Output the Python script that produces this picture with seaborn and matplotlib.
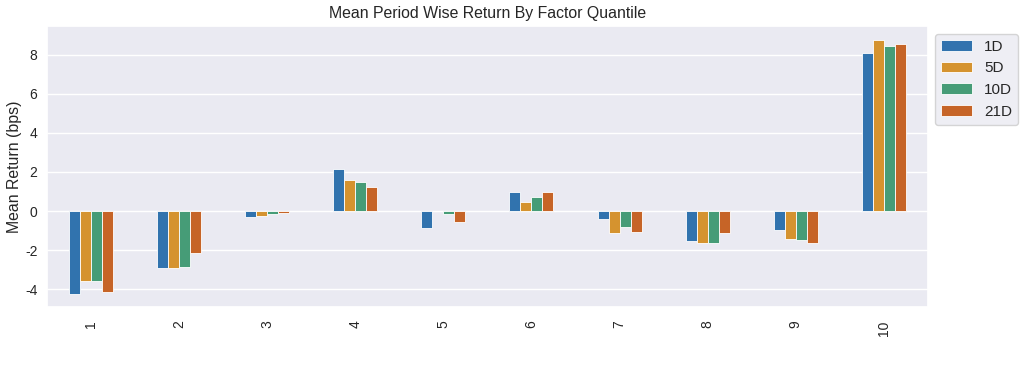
import matplotlib
matplotlib.use("Agg")
import matplotlib.pyplot as plt
import seaborn as sns
import pandas as pd

quantiles = [1, 2, 3, 4, 5, 6, 7, 8, 9, 10]
periods = ["1D", "5D", "10D", "21D"]
ret_1d = [-4.26, -2.90, -0.29, 2.14, -0.89, 0.96, -0.43, -1.52, -0.99, 8.12]
ret_5d = [-3.57, -2.94, -0.26, 1.57, -0.02, 0.48, -1.14, -1.62, -1.44, 8.79]
ret_10d = [-3.60, -2.85, -0.15, 1.50, -0.14, 0.70, -0.80, -1.66, -1.47, 8.45]
ret_21d = [-4.14, -2.14, -0.08, 1.21, -0.55, 0.99, -1.09, -1.13, -1.66, 8.56]
colors = ["#3173ae", "#d5932f", "#469c77", "#c66427"]

wide = pd.DataFrame({"1D": ret_1d, "5D": ret_5d, "10D": ret_10d, "21D": ret_21d},
                    index=quantiles)
df = wide.reset_index().melt(id_vars="index", var_name="period", value_name="ret")
df = df.rename(columns={"index": "factor_quantile"})

sns.set_theme(style="darkgrid")
plt.rcParams["font.family"] = ["Liberation Sans", "DejaVu Sans"]
plt.rcParams["axes.unicode_minus"] = False

fig = plt.figure(figsize=(10.24, 3.65), dpi=100)
ax = fig.add_axes([0.046, 0.159, 0.86, 0.770])
sns.barplot(data=df, x="factor_quantile", y="ret", hue="period", hue_order=periods,
            palette=colors, width=0.5, ax=ax, edgecolor="white", linewidth=0.6,
            saturation=1)
ax.set_ylim(-4.92, 9.49)
ax.set_xlim(-0.5, 9.5)
ax.set_title("Mean Period Wise Return By Factor Quantile", fontsize=11.4, color="#262626")
ax.set_ylabel("Mean Return (bps)", fontsize=11.4)
ax.yaxis.set_label_coords(-0.028, 0.5)
ax.set_xlabel("")
ax.tick_params(axis="x", labelrotation=90, labelsize=10)
ax.tick_params(axis="y", labelsize=10, pad=1)
ax.legend(loc="upper left", bbox_to_anchor=(1, 1), fontsize=11)

fig.savefig("out.png", dpi=100)
